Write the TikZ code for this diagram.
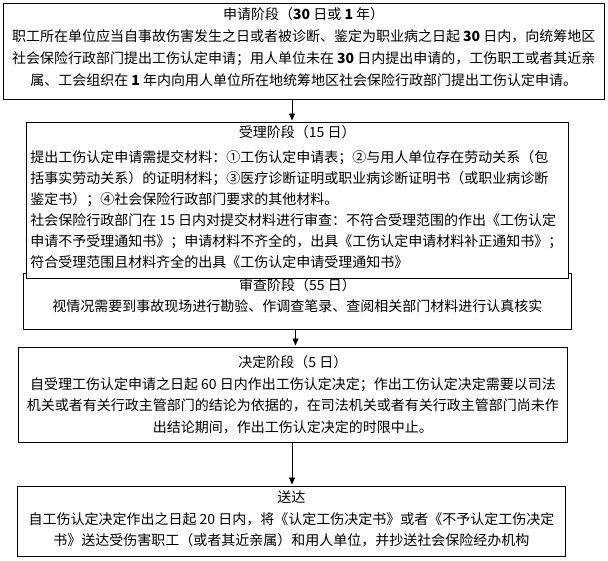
\documentclass[tikz,border=0pt]{standalone}
\usepackage{fontspec}
\setmainfont{Noto Sans CJK SC}
\usetikzlibrary{arrows.meta}
\newcommand\boxtext[3]{\parbox[c][#2][t]{#1}{#3}}
\newcommand\firstline[1]{\rule{0pt}{#1}}
\tikzset{
  stagebox/.style={draw=black, line width=0.9pt, fill=white, inner sep=0pt, anchor=north west},
  arr/.style={draw=black, line width=0.9pt, -{Triangle[length=7pt,width=6pt]}, shorten >=1.5pt}
}
\begin{document}
\begin{tikzpicture}[x=1pt,y=-1pt]
\useasboundingbox[fill=white] (0,0) rectangle (608,560);

% Box 1
\node[stagebox] (b1) at (2.5,2.5) {\boxtext{601.5pt}{96.5pt}{\centering\fontsize{14}{22}\selectfont
\firstline{16.8pt}申请阶段（\textbf{30} 日或 \textbf{1} 年）\\
职工所在单位应当自事故伤害发生之日或者被诊断、鉴定为职业病之日起 \textbf{30} 日内，向统筹地区\\
社会保险行政部门提出工伤认定申请；用人单位未在 \textbf{30} 日内提出申请的，工伤职工或者其近亲\\
属、工会组织在 \textbf{1} 年内向用人单位所在地统筹地区社会保险行政部门提出工伤认定申请。\par}};

% Box 3 (drawn before box 2, which overlaps it)
\node[stagebox] (b3) at (23,273) {\boxtext{548pt}{56pt}{\centering\fontsize{14}{21}\selectfont
\firstline{17.3pt}审查阶段（55 日）\\
视情况需要到事故现场进行勘验、作调查笔录、查阅相关部门材料进行认真核实\par}};

% Box 2
\node[stagebox] (b2) at (25.7,122) {\boxtext{542.3pt}{156pt}{\fontsize{14}{21}\selectfont
{\centering\firstline{15.3pt}受理阶段（15 日）\par}
\vspace{4pt}
\leftskip=4.3pt\parindent=0pt
提出工伤认定申请需提交材料：①工伤认定申请表；②与用人单位存在劳动关系（包\\
括事实劳动关系）的证明材料；③医疗诊断证明或职业病诊断证明书（或职业病诊断\\
鉴定书）；④社会保险行政部门要求的其他材料。\\
社会保险行政部门在 15 日内对提交材料进行审查：不符合受理范围的作出《工伤认定\\
申请不予受理通知书》；申请材料不齐全的，出具《工伤认定申请材料补正通知书》；\\
符合受理范围且材料齐全的出具《工伤认定申请受理通知书》\par}};

% Box 4
\node[stagebox] (b4) at (18,347) {\boxtext{549pt}{95pt}{\centering\fontsize{14}{21.5}\selectfont
\firstline{20.3pt}决定阶段（5 日）\\
自受理工伤认定申请之日起 60 日内作出工伤认定决定；作出工伤认定决定需要以司法\\
机关或者有关行政主管部门的结论为依据的，在司法机关或者有关行政主管部门尚未作\\
出结论期间，作出工伤认定决定的时限中止。\par}};

% Box 5
\node[stagebox] (b5) at (17,486) {\boxtext{548pt}{70pt}{\centering\fontsize{14}{21.5}\selectfont
\firstline{16.3pt}送达\\
自工伤认定决定作出之日起 20 日内，将《认定工伤决定书》或者《不予认定工伤决定\\
书》送达受伤害职工（或者其近亲属）和用人单位，并抄送社会保险经办机构\par}};

% Connectors
\coordinate (c1) at (292,0);
\coordinate (c2) at (295.5,0);
\coordinate (c3) at (292,0);
\draw[arr] (b1.south -| c1) -- (b2.north -| c1);
\draw[arr] (b3.south -| c2) -- (b4.north -| c2);
\draw[arr] (b4.south -| c3) -- (b5.north -| c3);
\end{tikzpicture}
\end{document}
